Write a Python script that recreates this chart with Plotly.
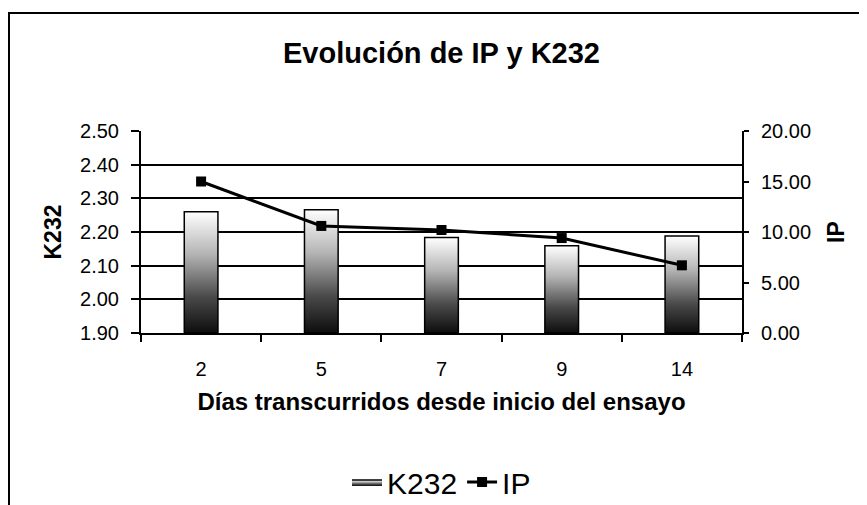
import plotly.graph_objects as go

# ---- data ----
days = ["2", "5", "7", "9", "14"]
k232 = [2.260, 2.266, 2.184, 2.159, 2.188]
ip = [15.0, 10.6, 10.2, 9.4, 6.7]

K_RANGE = [1.90, 2.50]
IP_RANGE = [0, 20]
k_ticks = [1.90, 2.00, 2.10, 2.20, 2.30, 2.40, 2.50]
ip_ticks = [0, 5, 10, 15, 20]

FONT = "Liberation Sans, Arial, sans-serif"
BAR_HALF = 0.14
GRAD = [[0, "#0d0d0d"], [0.3, "#4a4a4a"], [0.65, "#b4b4b4"], [1, "#ffffff"]]

# page body adds an 8px offset, so the figure is 8px smaller than the window
W, H = 859, 497
ML, MR, MT, MB = 133, 125, 123, 172

fig = go.Figure()
pos = list(range(len(days)))
for i, (p, v) in enumerate(zip(pos, k232)):
    fig.add_trace(go.Scatter(
        x=[p - BAR_HALF, p + BAR_HALF, p + BAR_HALF, p - BAR_HALF, p - BAR_HALF],
        y=[K_RANGE[0], K_RANGE[0], v, v, K_RANGE[0]],
        mode="lines", fill="toself",
        fillgradient=dict(type="vertical", colorscale=GRAD, start=K_RANGE[0], stop=v),
        line=dict(color="black", width=1.5),
        name="K232", legendgroup="k232", showlegend=(i == 0),
        hoverinfo="skip",
    ))

fig.add_trace(go.Scatter(
    x=pos, y=ip, yaxis="y2", name="IP",
    mode="lines+markers",
    line=dict(color="black", width=3),
    marker=dict(symbol="square", size=10, color="black"),
))

# outer chart border (extends beyond the window on the right and bottom)
pw, ph = W - ML - MR, H - MT - MB
fig.add_shape(type="rect", xref="paper", yref="paper",
              x0=(1 - ML) / pw, x1=(W + 20 - ML) / pw,
              y0=(H - MB - (H + 20)) / ph, y1=(H - MB - 5) / ph,
              line=dict(color="black", width=2), fillcolor="rgba(0,0,0,0)", layer="below")

fig.update_layout(
    width=W, height=H,
    margin=dict(l=ML, r=MR, t=MT, b=MB),
    paper_bgcolor="white", plot_bgcolor="white",
    font=dict(family=FONT, color="black", size=20),
    title=dict(text="<b>Evolución de IP y K232</b>", font=dict(size=29, family=FONT),
               x=0.5, xref="paper", xanchor="center",
               y=1 - 45 / H, yref="container", yanchor="middle"),
    showlegend=True,
    legend=dict(orientation="h", x=0.5, xanchor="center", xref="paper",
                y=1 - 474 / H, yref="container", yanchor="middle",
                font=dict(size=30, family=FONT), bgcolor="rgba(0,0,0,0)"),
    xaxis=dict(range=[-0.5, len(days) - 0.5], tickmode="array", tickvals=pos, ticktext=days,
               ticks="", showgrid=False, zeroline=False,
               showline=True, linecolor="black", linewidth=2,
               minor=dict(tickmode="array", tickvals=[p - 0.5 for p in pos] + [pos[-1] + 0.5],
                          ticks="outside", ticklen=7, tickwidth=1.5, tickcolor="black", showgrid=False),
               ticklabelstandoff=17,
               title=dict(text="<b>Días transcurridos desde inicio del ensayo</b>",
                          font=dict(size=24, family=FONT), standoff=14)),
    yaxis=dict(range=K_RANGE, tickmode="array", tickvals=k_ticks, tickformat=".2f",
               showgrid=True, gridcolor="black", gridwidth=1.5, zeroline=False,
               showline=True, linecolor="black", linewidth=2,
               ticks="outside", ticklen=8, tickwidth=1.5, tickcolor="black",
               ticklabelstandoff=8,
               title=dict(text="<b>K232</b>", font=dict(size=23, family=FONT), standoff=12)),
    yaxis2=dict(range=IP_RANGE, tickmode="array", tickvals=ip_ticks, tickformat=".2f",
                overlaying="y", side="right", showgrid=False, zeroline=False,
                showline=True, linecolor="black", linewidth=2,
                ticks="outside", ticklen=5, tickwidth=1.5, tickcolor="black",
                ticklabelstandoff=8,
                title=dict(text="<b>IP</b>", font=dict(size=23, family=FONT), standoff=18)),
)

fig.write_html("out.html")
